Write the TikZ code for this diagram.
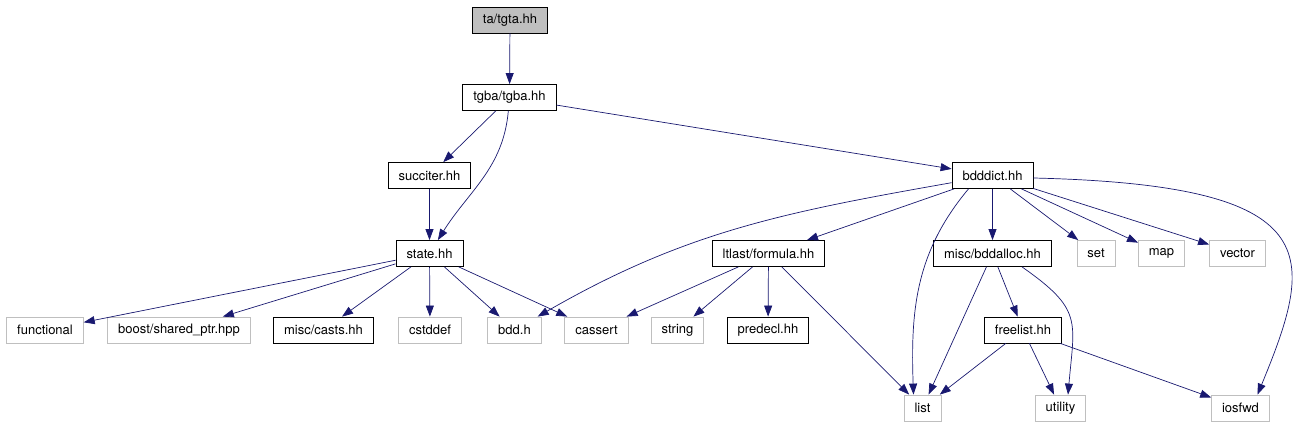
\documentclass[tikz,border=0pt]{standalone}
\usepackage{fontspec}
\setmainfont{TeX Gyre Heros}
\usepackage{tikz}
\usetikzlibrary{arrows.meta,positioning,calc}
\definecolor{edgeblue}{HTML}{191970}
\definecolor{extgray}{HTML}{BFBFBF}
\tikzset{hdr/.style={draw=black,fill=white,font=\fontsize{13}{15}\selectfont,inner xsep=10.5pt,inner ysep=0pt,minimum height=26pt,line width=0.8pt}, syshdr/.style={hdr,draw=extgray}, dep/.style={-{Triangle[length=11pt,width=8pt]},draw=edgeblue,line width=0.7pt}}

\begin{document}
\begin{tikzpicture}[x=1pt,y=-1pt]
\useasboundingbox (0,0) rectangle (1300,427);
\node[hdr,fill=extgray] (tgta) at (510,20) {ta/tgta.hh};
\node[hdr] (tgba) at (509.5,97.5) {tgba/tgba.hh};
\node[hdr] (succiter) at (429.5,175.5) {succiter.hh};
\node[hdr] (state) at (429.5,253.5) {state.hh};
\node[hdr] (bdddict) at (992.5,175.5) {bdddict.hh};
\node[syshdr] (functional) at (45,330) {functional};
\node[syshdr] (sharedptr) at (179,330) {boost/shared\_ptr.hpp};
\node[hdr] (casts) at (323.5,330) {misc/casts.hh};
\node[syshdr] (cstddef) at (430,330) {cstddef};
\node[syshdr] (bddh) at (514.5,330) {bdd.h};
\node[syshdr] (cassert) at (596.5,330) {cassert};
\node[syshdr] (string) at (677.5,330) {string};
\node[hdr] (formula) at (768.5,253.5) {ltlast/formula.hh};
\node[hdr] (predecl) at (768,330) {predecl.hh};
\node[hdr] (bddalloc) at (992.5,253.5) {misc/bddalloc.hh};
\node[syshdr] (set) at (1096,253.5) {set};
\node[syshdr] (map) at (1161.5,253.5) {map};
\node[syshdr] (vector) at (1237.5,253.5) {vector};
\node[hdr] (freelist) at (1023,330) {freelist.hh};
\node[syshdr] (list) at (922.5,408) {list};
\node[syshdr] (utility) at (1060.5,408) {utility};
\node[syshdr] (iosfwd) at (1240.5,408) {iosfwd};
\draw[dep] (tgta)--(tgba);
\draw[dep] (tgba)--(succiter);
\draw[dep] (tgba) to[out=-95,in=58] (state);
\draw[dep] (tgba)--(bdddict);
\draw[dep] (succiter)--(state);
\draw[dep] (state)--(functional);
\draw[dep] (state)--(sharedptr);
\draw[dep] (state)--(casts);
\draw[dep] (state)--(cstddef);
\draw[dep] (state)--(bddh);
\draw[dep] (state)--(cassert);
\draw[dep] (bdddict) to[out=190,in=30] (bddh);
\draw[dep] (bdddict)--(formula);
\draw[dep] ($(bdddict.south)+(-24,0)$) to[out=-130,in=92] ($(list.north)+(-9,0)$);
\draw[dep] (bdddict)--(bddalloc);
\draw[dep] (bdddict)--(set);
\draw[dep] (bdddict)--(map);
\draw[dep] (bdddict)--(vector);
\draw[dep] ($(bdddict.east)+(0,2.5)$) .. controls (1330,185) and (1315,255) .. ($(iosfwd.north)+(17,0)$);
\draw[dep] (formula)--(cassert);
\draw[dep] (formula)--(string);
\draw[dep] (formula)--(predecl);
\draw[dep] (formula)--(list);
\draw[dep] (bddalloc)--(list);
\draw[dep] (bddalloc)--(freelist);
\draw[dep] ($(bddalloc.south)+(29.5,0)$) to[out=-35,in=85,looseness=1.4] ($(utility.north)+(7.5,0)$);
\draw[dep] (freelist)--(list);
\draw[dep] (freelist)--(utility);
\draw[dep] (freelist)--(iosfwd);
\end{tikzpicture}
\end{document}
